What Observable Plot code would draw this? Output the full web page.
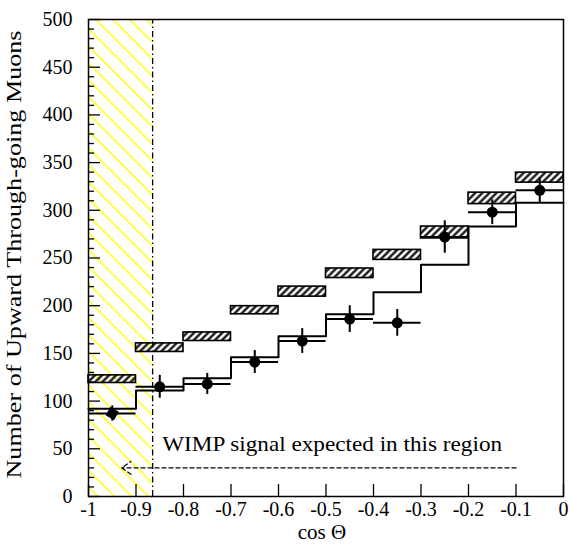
<!DOCTYPE html>
<html><head><meta charset="utf-8">
<script src="https://cdn.jsdelivr.net/npm/d3@7"></script>
<script src="https://cdn.jsdelivr.net/npm/@observablehq/plot@0.6"></script>
<style>body{margin:0;background:#fff} svg text{font-family:"Liberation Serif","Times New Roman",serif;}</style>
</head><body>
<svg width="0" height="0" style="position:absolute">
<defs>
<pattern id="yellowHatch" patternUnits="userSpaceOnUse" width="12" height="12" patternTransform="rotate(-45)"><line x1="6" y1="-1" x2="6" y2="13" stroke="#ffff00" stroke-width="1.4"/></pattern>
<pattern id="blackHatch" patternUnits="userSpaceOnUse" width="5" height="5" patternTransform="rotate(45)"><line x1="2.5" y1="-1" x2="2.5" y2="6" stroke="#000" stroke-width="2.2"/></pattern>
</defs></svg>
<div id="chart"></div>
<script>
// ---- data ----
const binCenters = [-0.95, -0.85, -0.75, -0.65, -0.55, -0.45, -0.35, -0.25, -0.15, -0.05];
const binLow  = [-1, -0.9, -0.8, -0.7, -0.6, -0.5, -0.4, -0.3, -0.2, -0.1];
const binHigh = [-0.9, -0.8, -0.7, -0.6, -0.5, -0.4, -0.3, -0.2, -0.1, 0];
const observed = [87, 115, 118, 141, 163, 186, 182, 272, 298, 321];
const observedErr = [8, 12, 11, 12, 13, 14, 14, 17, 13, 13];
const oscillationExpected = [92, 111, 124, 146, 168, 191, 214, 243, 283, 308];
const noOscLow  = [119, 151.5, 163, 191, 209.5, 229, 248, 270.5, 306.5, 329];
const noOscHigh = [127, 160.5, 172, 199.5, 220, 239, 258.5, 283, 318.5, 339.5];
const xTicks = [-1, -0.9, -0.8, -0.7, -0.6, -0.5, -0.4, -0.3, -0.2, -0.1, 0];
const yMajorTicks = [0, 50, 100, 150, 200, 250, 300, 350, 400, 450, 500];
const yMinorTicks = [10, 20, 30, 40, 60, 70, 80, 90, 110, 120, 130, 140, 160, 170, 180, 190,
  210, 220, 230, 240, 260, 270, 280, 290, 310, 320, 330, 340, 360, 370, 380, 390,
  410, 420, 430, 440, 460, 470, 480, 490];
const wimpRegion = [-1, -0.865];
const wimpArrow = {from: -0.1, to: -0.93, level: 30};
const wimpText = "WIMP signal expected in this region";
const wimpTextPos = {x: -0.845, y: 55};
const xTitle = "cos Θ";
const yTitle = "Number of Upward Through-going Muons";

// ---- layout ----
const W = 570, H = 546, mL = 88, mR = 7, mT = 19, mB = 50;
const innerW = W - mL - mR, innerH = H - mT - mB;
const serif = "Liberation Serif";

const bins = binCenters.map((c, i) => ({
  c, lo: binLow[i], hi: binHigh[i], obs: observed[i], err: observedErr[i],
  bLo: noOscLow[i], bHi: noOscHigh[i]
}));
const step = [...binLow, 0].map((x, i) => ({x, y: oscillationExpected[Math.min(i, oscillationExpected.length - 1)]}));

const plot = Plot.plot({
  width: W, height: H,
  marginLeft: mL, marginRight: mR, marginTop: mT, marginBottom: mB,
  style: {fontFamily: serif, fontSize: "20px", background: "#fff", color: "#000"},
  x: {domain: [-1, 0]},
  y: {domain: [0, 500]},
  marks: [
    Plot.rect([wimpRegion], {x1: d => d[0], x2: d => d[1], y1: 0, y2: 500, fill: "url(#yellowHatch)"}),
    Plot.ruleX([wimpRegion[1]], {y1: 0, y2: 500, stroke: "#000", strokeWidth: 1.3, strokeDasharray: "6,3,1.5,3"}),
    Plot.rect(bins, {x1: "lo", x2: "hi", y1: "bLo", y2: "bHi", fill: "url(#blackHatch)", stroke: "#000", strokeWidth: 1.6}),
    Plot.line(step, {x: "x", y: "y", curve: "step-after", stroke: "#000", strokeWidth: 2}),
    Plot.ruleY(bins, {y: "obs", x1: "lo", x2: "hi", stroke: "#000", strokeWidth: 2}),
    Plot.ruleX(bins, {x: "c", y1: d => d.obs - d.err, y2: d => d.obs + d.err, stroke: "#000", strokeWidth: 2}),
    Plot.dot(bins.slice(1), {x: "c", y: "obs", r: 5.5, fill: "#000", stroke: "none"}),
    Plot.dot(bins.slice(0, 1), {x: "c", y: "obs", r: 5.5, symbol: "square", rotate: 30, fill: "#000", stroke: "none"}),
    Plot.arrow([wimpArrow], {x1: "from", x2: "to", y1: "level", y2: "level", stroke: "#000", strokeWidth: 1.2, strokeDasharray: "4,3", headLength: 14, headAngle: 70}),
    Plot.text([wimpText], {x: wimpTextPos.x, y: wimpTextPos.y, text: d => d, textAnchor: "start", fontSize: 21, fontFamily: serif}),
    Plot.tickY(yMajorTicks, {y: d => d, insetRight: innerW - 12, stroke: "#000", strokeWidth: 1.3}),
    Plot.tickY(yMinorTicks, {y: d => d, insetRight: innerW - 6, stroke: "#000", strokeWidth: 1.3}),
    Plot.tickX(xTicks, {x: d => d, insetTop: innerH - 12, stroke: "#000", strokeWidth: 1.3}),
    Plot.frame({stroke: "#000", strokeWidth: 1.5}),
    Plot.axisY(yMajorTicks, {tickSize: 0, tickPadding: 16, label: null, tickFormat: d => String(d), fontSize: 20, fontFamily: serif}),
    Plot.axisX(xTicks, {tickSize: 0, tickPadding: 5, label: null, tickFormat: d => String(d), fontSize: 20, fontFamily: serif}),
    Plot.text([xTitle], {frameAnchor: "bottom", dy: 42, dx: -4, text: d => d, fontSize: 21, fontFamily: serif}),
    Plot.text([yTitle], {frameAnchor: "bottom-left", dx: -68, dy: -18, rotate: -90, textAnchor: "start", text: d => d, fontSize: 21, fontFamily: serif})
  ]
});
d3.select(plot).attr("font-family", serif);
document.getElementById("chart").appendChild(plot);
d3.select(plot).selectAll("text").each(function() {
  const t = this.textContent;
  if (t === yTitle) d3.select(this).attr("textLength", 448).attr("lengthAdjust", "spacingAndGlyphs");
  if (t === wimpText) d3.select(this).attr("textLength", 340).attr("lengthAdjust", "spacingAndGlyphs");
});
</script>
</body></html>
